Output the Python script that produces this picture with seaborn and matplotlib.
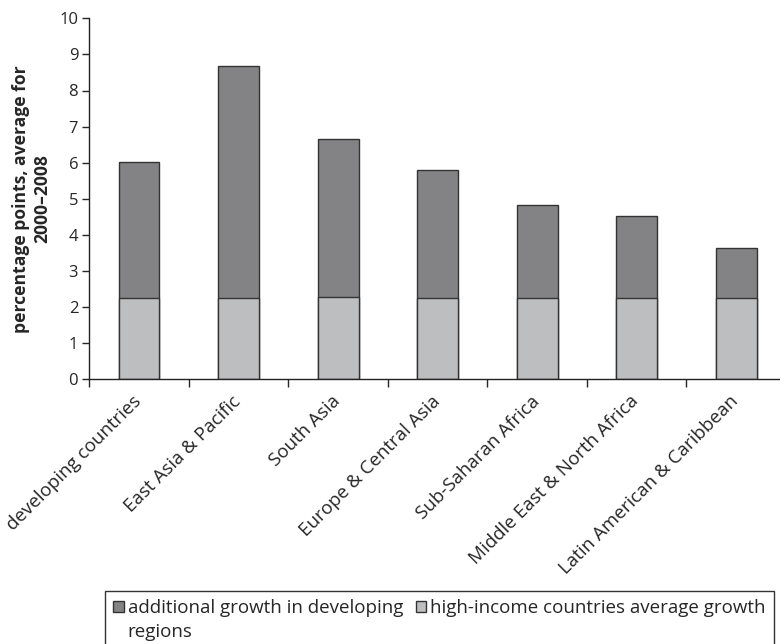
import pandas as pd
import seaborn as sns
import matplotlib.pyplot as plt
from matplotlib.patches import Patch

# Data
regions = ['developing countries', 'East Asia & Pacific', 'South Asia',
           'Europe & Central Asia', 'Sub-Saharan Africa',
           'Middle East & North Africa', 'Latin American & Caribbean']
high_income = [2.25, 2.25, 2.29, 2.24, 2.24, 2.25, 2.24]
additional = [3.78, 6.42, 4.36, 3.57, 2.60, 2.26, 1.41]

df = pd.DataFrame({'region': regions, 'high_income': high_income,
                   'additional': additional})
df['total'] = df['high_income'] + df['additional']

dark = '#838385'
light = '#bdbec0'

sns.set_style('white')
plt.rcParams['font.family'] = ['Open Sans', 'DejaVu Sans']

fig = plt.figure(figsize=(7.8, 6.44), dpi=100)
ax = fig.add_axes([89.3 / 780, 1 - 379.3 / 644, (786 - 89.3) / 780, (379.3 - 18.3) / 644])

# stacked bars: total in dark, base drawn over it in light
sns.barplot(data=df, x='region', y='total', color=dark, width=0.41,
            edgecolor='#333333', linewidth=1, saturation=1, ax=ax)
sns.barplot(data=df, x='region', y='high_income', color=light, width=0.41,
            edgecolor='#333333', linewidth=1, saturation=1, ax=ax)

ax.set_ylim(0, 10)
ax.set_xlim(-0.5, 6.5)
ax.set_yticks(range(0, 11))
ax.set_xticks([i - 0.5 for i in range(8)])
ax.set_xticklabels([])
for i, name in enumerate(regions):
    ax.text(i - 0.07, -0.36, name, rotation=45, ha='right', va='top',
            rotation_mode='anchor', fontsize=13.5)

ax.set_xlabel('')
ax.set_ylabel('percentage points, average for\n2000–2008', fontsize=12.6,
              fontweight='bold', labelpad=6)
ax.tick_params(axis='y', labelsize=12, length=5, width=1, direction='out',
               left=True, pad=3)
ax.tick_params(axis='x', length=6, width=1, direction='out', bottom=True)
sns.despine(ax=ax)
for s in ['left', 'bottom']:
    ax.spines[s].set_color('#222222')
    ax.spines[s].set_linewidth(1)

# legend: the wrapped first label goes on a second row with no marker
blank = Patch(facecolor='none', edgecolor='none')
handles = [Patch(facecolor=dark, edgecolor='#333333', linewidth=1), blank,
           Patch(facecolor=light, edgecolor='#333333', linewidth=1), blank]
labels = ['additional growth in developing', 'regions',
          'high-income countries average growth', '']
fig.legend(handles, labels, loc='upper left', ncol=2,
           bbox_to_anchor=(105 / 780, 1 - 591 / 644), frameon=True,
           fontsize=13.5, handlelength=0.55, handleheight=0.55,
           handletextpad=0.2, columnspacing=0.7, labelspacing=0.3,
           fancybox=False, edgecolor='#333333', borderpad=0.45,
           borderaxespad=0, framealpha=1)

fig.savefig('out.png', dpi=100)
